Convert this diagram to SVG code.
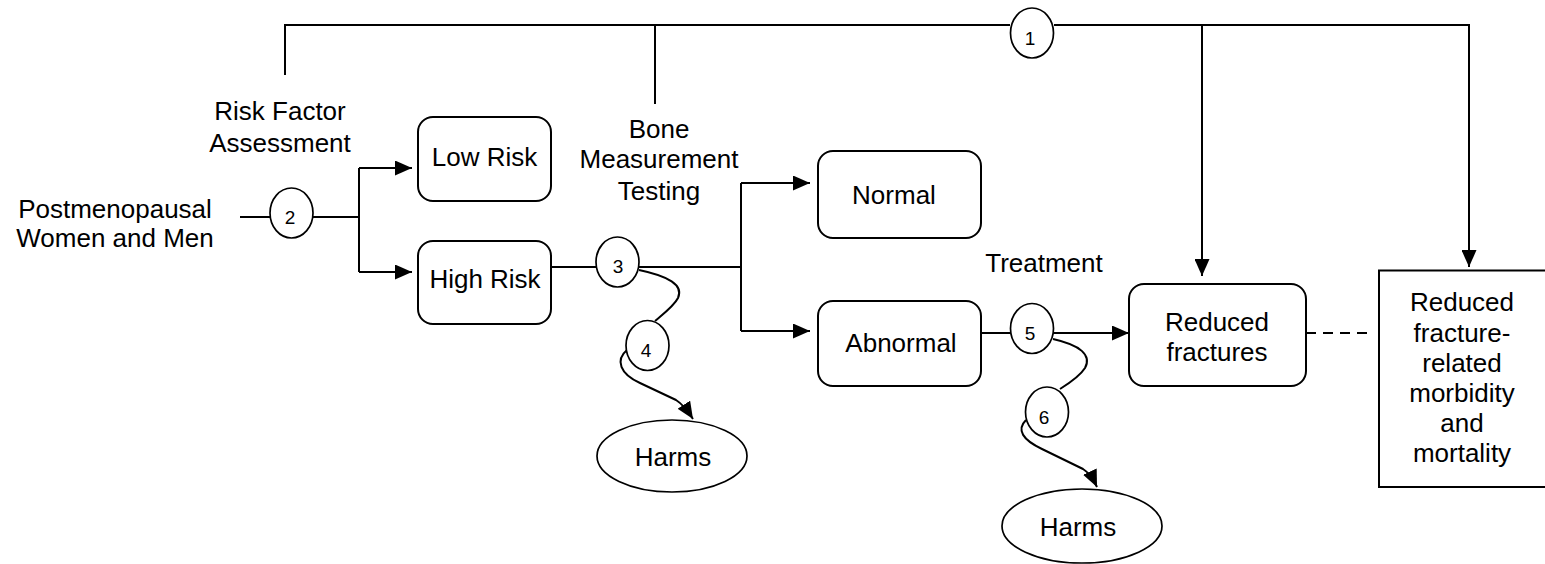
<svg xmlns="http://www.w3.org/2000/svg" width="1545" height="564" viewBox="0 0 1545 564">
<defs>
<style>
text{font-family:"Liberation Sans",Arial,sans-serif;font-size:26px;fill:#000;text-anchor:middle}
.num{font-size:19px}
.box{fill:#fff;stroke:#000;stroke-width:2}
.oval{fill:#fff;stroke:#000;stroke-width:1.7}
.ln{fill:none;stroke:#000;stroke-width:2}
.dash{fill:none;stroke:#000;stroke-width:2;stroke-dasharray:10 7}
</style>
<marker id="ah" viewBox="0 0 17 15" refX="17" refY="7.5" markerWidth="17" markerHeight="15" markerUnits="userSpaceOnUse" orient="auto">
<path d="M0,0 L17,7.5 L0,15 z" fill="#000"/>
</marker>
</defs>
<rect width="1545" height="564" fill="#fff"/>
<g id="connectors">
<path class="ln" d="M285,75 V25 H1010"/>
<path class="ln" d="M655,25 V104"/>
<path class="ln" d="M1054,25 H1469 V267" marker-end="url(#ah)"/>
<path class="ln" d="M1202,25 V276" marker-end="url(#ah)"/>
<path class="ln" d="M240,217 H270"/>
<path class="ln" d="M313,217 H359"/>
<path class="ln" d="M359,168 V272"/>
<path class="ln" d="M359,168 H412" marker-end="url(#ah)"/>
<path class="ln" d="M359,272 H412" marker-end="url(#ah)"/>
<path class="ln" d="M551,267 H596"/>
<path class="ln" d="M639,267 H741"/>
<path class="ln" d="M741,183 V331"/>
<path class="ln" d="M741,183 H810" marker-end="url(#ah)"/>
<path class="ln" d="M741,331 H810" marker-end="url(#ah)"/>
<path class="ln" d="M981,333 H1011"/>
<path class="ln" d="M1053,333 H1129" marker-end="url(#ah)"/>
<path class="dash" d="M1306,333 H1373"/>
<path class="ln" d="M639,270 C668,276 684,285 678,298 C674,306 662,315 655,321"/>
<path class="ln" d="M627,350 C615,360 620,374 640,383 L676,400 Q684,405 693,419" marker-end="url(#ah)"/>
<path class="ln" d="M1053,339 C1080,345 1092,355 1085,368 C1080,376 1068,384 1060,389"/>
<path class="ln" d="M1026,420 C1016,430 1023,440 1042,449 L1083,469 Q1091,474 1097,487" marker-end="url(#ah)"/>
</g>
<g id="label-risk-factor"><text x="280" y="120">Risk Factor</text><text x="280" y="152">Assessment</text></g>
<g id="label-population"><text x="115" y="218">Postmenopausal</text><text x="115" y="247">Women and Men</text></g>
<g id="label-bone"><text x="659" y="138">Bone</text><text x="659" y="168">Measurement</text><text x="659" y="200">Testing</text></g>
<g id="label-treatment"><text x="1044" y="272">Treatment</text></g>
<g id="n-low-risk"><rect class="box" x="418" y="117" width="133" height="84" rx="15"/><text x="484.5" y="166">Low Risk</text></g>
<g id="n-high-risk"><rect class="box" x="418" y="241" width="133" height="83" rx="15"/><text x="485" y="288">High Risk</text></g>
<g id="n-normal"><rect class="box" x="818" y="151" width="163" height="87" rx="15"/><text x="894" y="204">Normal</text></g>
<g id="n-abnormal"><rect class="box" x="818" y="301" width="163" height="85" rx="15"/><text x="901" y="352">Abnormal</text></g>
<g id="n-reduced-fractures"><rect class="box" x="1129" y="284" width="177" height="102" rx="15"/><text x="1217" y="331">Reduced</text><text x="1217" y="361">fractures</text></g>
<g id="n-outcome"><rect class="box" x="1379" y="270.5" width="180" height="216.5"/>
<text x="1462" y="311">Reduced</text><text x="1462" y="342">fracture-</text><text x="1462" y="372">related</text><text x="1462" y="402">morbidity</text><text x="1462" y="432">and</text><text x="1462" y="462">mortality</text></g>
<g id="n-harms-1"><ellipse class="oval" cx="672" cy="456" rx="75" ry="36"/><text x="673" y="466">Harms</text></g>
<g id="n-harms-2"><ellipse class="oval" cx="1082" cy="526" rx="80" ry="37"/><text x="1078" y="536">Harms</text></g>
<g id="kq-1"><ellipse class="oval" cx="1032" cy="33" rx="21.5" ry="25"/><text class="num" x="1030" y="45">1</text></g>
<g id="kq-2"><ellipse class="oval" cx="291.5" cy="213" rx="21.5" ry="25"/><text class="num" x="290" y="224">2</text></g>
<g id="kq-3"><ellipse class="oval" cx="617.5" cy="262" rx="21.5" ry="25"/><text class="num" x="618" y="273">3</text></g>
<g id="kq-4"><ellipse class="oval" cx="647.5" cy="345.5" rx="21.5" ry="25"/><text class="num" x="646" y="357">4</text></g>
<g id="kq-5"><ellipse class="oval" cx="1032" cy="328.5" rx="21.5" ry="25"/><text class="num" x="1030" y="340">5</text></g>
<g id="kq-6"><ellipse class="oval" cx="1047" cy="412" rx="21.5" ry="25"/><text class="num" x="1044" y="424">6</text></g>
</svg>
